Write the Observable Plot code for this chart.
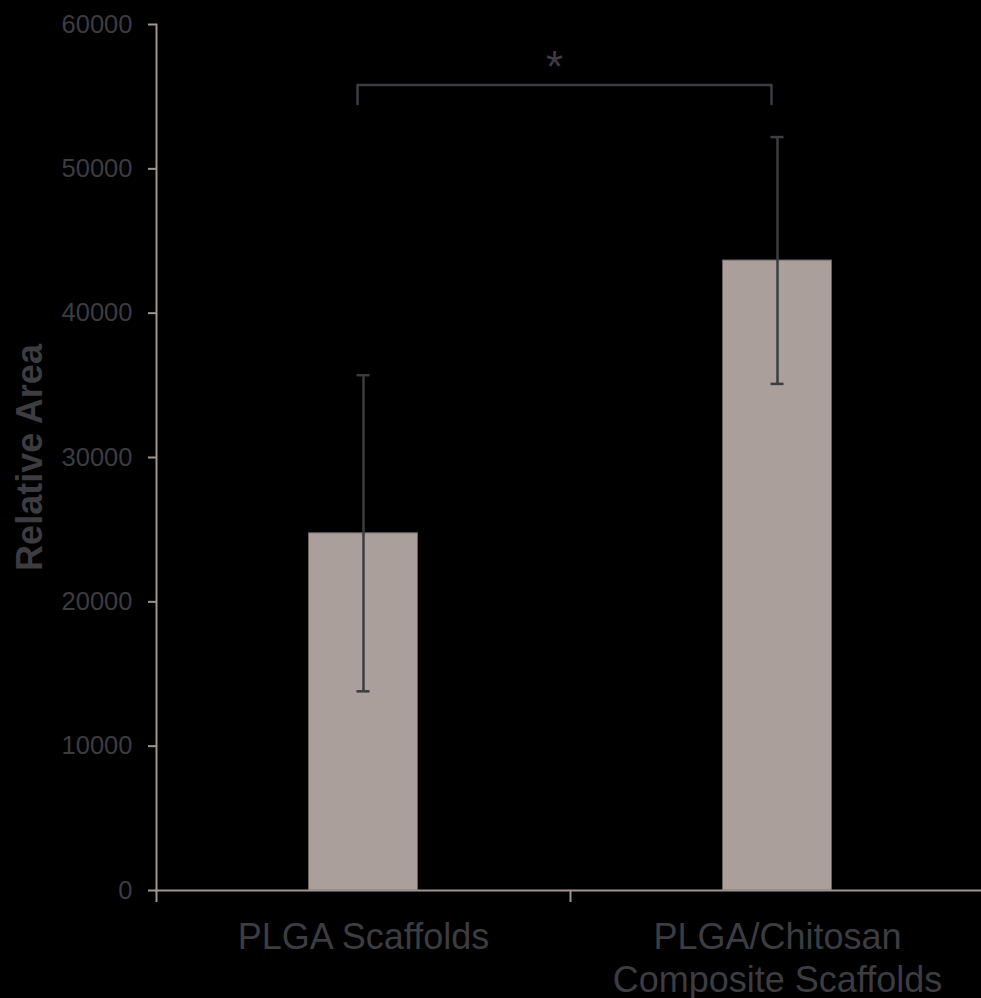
<!DOCTYPE html>
<html>
<head>
<meta charset="utf-8">
<script src="https://cdn.jsdelivr.net/npm/d3@7"></script>
<script src="https://cdn.jsdelivr.net/npm/@observablehq/plot@0.6"></script>
<style>
  html, body { margin: 0; padding: 0; background: #000; }
  #chart { width: 981px; height: 998px; }
</style>
</head>
<body>
<div id="chart"></div>
<script>
// Scaffold groups and their measured relative area (mean ± error)
const groups = ["PLGA Scaffolds", "PLGA/Chitosan\nComposite Scaffolds"];
const means = [24750, 43650];
const errors = [10950, 8550];

// Y axis ticks
const yTicks = [0, 10000, 20000, 30000, 40000, 50000, 60000];

// Significance bracket between the two groups
const bracketTop = 55800;
const bracketFoot = 54500;
const starY = 56000;
const starLabel = "*";

const rows = groups.map((g, i) => ({group: g, mean: means[i], err: errors[i]}));
const bracket = [
  {group: groups[0], value: bracketFoot},
  {group: groups[0], value: bracketTop},
  {group: groups[1], value: bracketTop},
  {group: groups[1], value: bracketFoot}
];

const barFill = "#ab9f9b";
const axisGrey = "#a1958f";
const ink = "#3c3c41";
const font = "'Liberation Sans', Arial, Helvetica, sans-serif";

const chart = Plot.plot({
  width: 981,
  height: 998,
  marginTop: 24,
  marginBottom: 108,
  marginLeft: 156,
  marginRight: 0,
  style: {background: "#000", fontFamily: font, color: ink},
  x: {domain: groups, range: [156, 984], padding: 0},
  y: {domain: [0, 60000]},
  marks: [
    Plot.barY(rows, {
      x: "group", y: "mean",
      fill: barFill, stroke: "#6a6260", strokeWidth: 1,
      insetLeft: 152.5, insetRight: 152.5
    }),
    // axis lines
    Plot.frame({anchor: "left", stroke: axisGrey, strokeWidth: 2}),
    Plot.frame({anchor: "bottom", stroke: axisGrey, strokeWidth: 2}),
    // category separators on the x axis
    Plot.ruleX(groups, {
      x: (d) => d, y1: 0, y2: 0, dx: -207, insetBottom: -12,
      stroke: axisGrey, strokeWidth: 2
    }),
    Plot.axisY({
      ticks: yTicks, tickFormat: d3.format("d"),
      tickSize: 8, tickPadding: 16, fontSize: 25.5,
      stroke: axisGrey, strokeWidth: 2, fill: ink, label: null
    }),
    Plot.axisX({
      tickSize: 0, tickPadding: 28, fontSize: 36, lineHeight: 1.2,
      fill: ink, label: null
    }),
    Plot.text(["Relative Area"], {
      frameAnchor: "left", textAnchor: "middle", rotate: -90, dx: -126,
      fontSize: 36, fontWeight: "bold", fill: ink
    }),
    // error bars
    Plot.ruleX(rows, {
      x: "group", y1: (d) => d.mean - d.err, y2: (d) => d.mean + d.err,
      stroke: ink, strokeWidth: 2.5
    }),
    Plot.tickY(rows, {
      x: "group", y: (d) => d.mean - d.err,
      insetLeft: 200.5, insetRight: 200.5, stroke: ink, strokeWidth: 2.5
    }),
    Plot.tickY(rows, {
      x: "group", y: (d) => d.mean + d.err,
      insetLeft: 200.5, insetRight: 200.5, stroke: ink, strokeWidth: 2.5
    }),
    // significance bracket and star
    Plot.line(bracket, {
      x: "group", y: "value", dx: -6,
      stroke: ink, strokeWidth: 2.5, curve: "linear"
    }),
    Plot.text([starLabel], {
      x: () => groups[0], y: () => starY, text: (d) => d, dx: 191,
      lineAnchor: "bottom", fontSize: 44, fill: ink
    })
  ]
});

document.getElementById("chart").appendChild(chart);
</script>
</body>
</html>
